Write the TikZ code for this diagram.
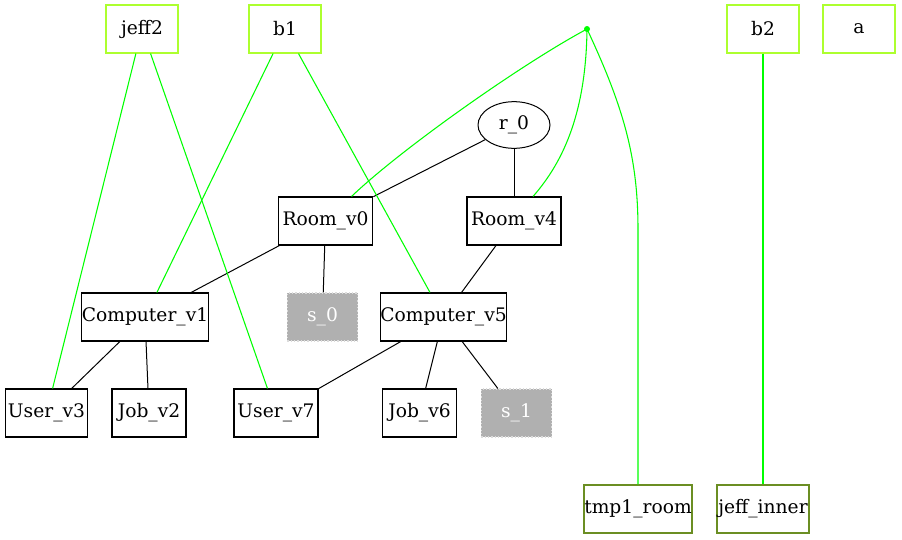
\documentclass[tikz,border=0pt]{standalone}
\usepackage{fontspec}
\setmainfont{DejaVu Serif}
\usetikzlibrary{shapes.geometric}
\definecolor{gyel}{RGB}{173,255,47}
\definecolor{egreen}{RGB}{0,255,0}
\definecolor{oliveb}{RGB}{107,142,35}
\definecolor{sgray}{RGB}{176,176,176}
\definecolor{sdot}{RGB}{220,220,220}
\begin{document}
\begin{tikzpicture}[x=0.75pt,y=-0.75pt,
  every node/.style={font=\fontsize{14}{16}\selectfont, inner sep=0pt, line width=0.8pt},
  bbox/.style={draw=black, rectangle, minimum height=36pt},
  topbox/.style={draw=gyel, rectangle, minimum height=36pt, minimum width=54pt},
  botbox/.style={draw=oliveb, rectangle, minimum height=36pt},
  sbox/.style={draw=sdot, dash pattern=on 1pt off 1.5pt, fill=sgray, text=white, rectangle, minimum height=36pt, minimum width=53pt},
  bedge/.style={draw=black, line width=0.75pt},
  gedge/.style={draw=egreen, line width=0.8pt}]
\useasboundingbox (0,0) rectangle (902,539);
% top row
\node[topbox] (jeff2) at (142,29) {jeff2};
\node[topbox] (b1) at (285,29) {b1};
\node[circle, fill=egreen, minimum size=4.5pt] (dot) at (587,29) {};
\node[topbox] (b2) at (763,29) {b2};
\node[topbox] (a) at (859,29) {a};
% graph
\node[ellipse, draw=black, line width=0.75pt, minimum width=54pt, minimum height=35pt] (r0) at (514,125) {r\_0};
\node[bbox, minimum width=71pt] (room0) at (325.5,221) {Room\_v0};
\node[bbox, minimum width=70.5pt] (room4) at (514,221) {Room\_v4};
\node[bbox, minimum width=91.5pt] (comp1) at (145,317) {Computer\_v1};
\node[sbox] (s0) at (322.5,317) {s\_0};
\node[bbox, minimum width=92pt] (comp5) at (443.5,317) {Computer\_v5};
\node[bbox, minimum width=62pt] (user3) at (46.5,413) {User\_v3};
\node[bbox, minimum width=55.5pt] (job2) at (149,413) {Job\_v2};
\node[bbox, minimum width=63pt] (user7) at (276,413) {User\_v7};
\node[bbox, minimum width=56pt] (job6) at (419.5,413) {Job\_v6};
\node[sbox] (s1) at (516.5,413) {s\_1};
\node[botbox, minimum width=81pt] (tmp1) at (638,509) {tmp1\_room};
\node[botbox, minimum width=69pt] (jinner) at (763,509) {jeff\_inner};
% black edges
\draw[bedge] (r0) -- (room0);
\draw[bedge] (r0) -- (room4);
\draw[bedge] (room0) -- (comp1);
\draw[bedge] (room0) -- (s0);
\draw[bedge] (room4) -- (comp5);
\draw[bedge] (comp1) -- (user3);
\draw[bedge] (comp1) -- (job2);
\draw[bedge] (comp5) -- (user7);
\draw[bedge] (comp5) -- (job6);
\draw[bedge] (comp5) -- (s1);
% green edges
\draw[gedge] (jeff2) -- (user3);
\draw[gedge] (jeff2) -- (user7);
\draw[gedge] (b1) -- (comp1);
\draw[gedge] (b1) -- (comp5);
\draw[gedge] (b2) -- (jinner);
\draw[gedge] (dot.center) .. controls (520,65) and (400,150) .. ([xshift=19.5pt]room0.north);
\draw[gedge] (dot.center) .. controls (586,110) and (565,160) .. ([xshift=14.25pt]room4.north);
\draw[gedge] (dot.center) .. controls (625,110) and (638,160) .. (638,230) -- (tmp1.north);
\end{tikzpicture}
\end{document}
